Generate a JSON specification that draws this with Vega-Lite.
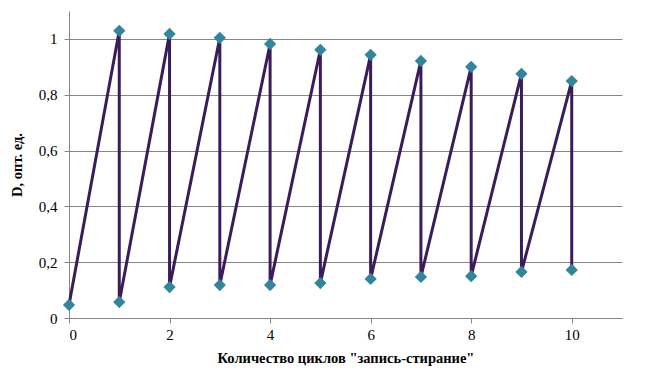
{
  "$schema": "https://vega.github.io/schema/vega-lite/v6.json",
  "width": 553,
  "height": 307,
  "autosize": {"type": "none"},
  "padding": {"left": 69, "top": 11, "right": 37, "bottom": 58},
  "background": "white",
  "config": {
    "view": {"stroke": null},
    "font": "Liberation Serif"
  },
  "data": {
    "values": [
      {"order": 1, "cycle": 0, "D": 0.047},
      {"order": 2, "cycle": 1, "D": 1.029},
      {"order": 3, "cycle": 1, "D": 0.057},
      {"order": 4, "cycle": 2, "D": 1.018},
      {"order": 5, "cycle": 2, "D": 0.111},
      {"order": 6, "cycle": 3, "D": 1.004},
      {"order": 7, "cycle": 3, "D": 0.118},
      {"order": 8, "cycle": 4, "D": 0.982},
      {"order": 9, "cycle": 4, "D": 0.118},
      {"order": 10, "cycle": 5, "D": 0.961},
      {"order": 11, "cycle": 5, "D": 0.125},
      {"order": 12, "cycle": 6, "D": 0.943},
      {"order": 13, "cycle": 6, "D": 0.14},
      {"order": 14, "cycle": 7, "D": 0.921},
      {"order": 15, "cycle": 7, "D": 0.147},
      {"order": 16, "cycle": 8, "D": 0.9},
      {"order": 17, "cycle": 8, "D": 0.15},
      {"order": 18, "cycle": 9, "D": 0.875},
      {"order": 19, "cycle": 9, "D": 0.165},
      {"order": 20, "cycle": 10, "D": 0.849},
      {"order": 21, "cycle": 10, "D": 0.172}
    ]
  },
  "encoding": {
    "x": {
      "field": "cycle",
      "type": "quantitative",
      "scale": {"domain": [0, 11], "nice": false, "zero": false},
      "axis": {
        "values": [0, 2, 4, 6, 8, 10],
        "grid": false,
        "domainColor": "#868686",
        "tickColor": "#868686",
        "tickSize": 5,
        "labelFont": "Liberation Serif",
        "labelFontSize": 15,
        "labelColor": "#000000",
        "labelPadding": 4,
        "title": "Количество циклов \"запись-стирание\"",
        "titleFont": "Liberation Serif",
        "titleFontSize": 14.5,
        "titleFontWeight": "bold",
        "titleColor": "#000000",
        "titlePadding": 9
      }
    },
    "y": {
      "field": "D",
      "type": "quantitative",
      "scale": {"domain": [0, 1.1], "nice": false},
      "axis": {
        "values": [0, 0.2, 0.4, 0.6, 0.8, 1],
        "labelExpr": "replace(format(datum.value, '~g'), '.', ',')",
        "grid": true,
        "gridColor": "#868686",
        "gridWidth": 1,
        "domainColor": "#868686",
        "tickColor": "#868686",
        "tickSize": 5,
        "labelFont": "Liberation Serif",
        "labelFontSize": 15,
        "labelColor": "#000000",
        "labelPadding": 7,
        "title": "D, опт. ед.",
        "titleFont": "Liberation Serif",
        "titleFontSize": 14.5,
        "titleFontWeight": "bold",
        "titleColor": "#000000",
        "titlePadding": 14
      }
    }
  },
  "layer": [
    {
      "mark": {"type": "line", "color": "#3b1c5a", "strokeWidth": 3},
      "encoding": {"order": {"field": "order", "type": "quantitative"}}
    },
    {
      "mark": {"type": "point", "shape": "diamond", "filled": true, "color": "#31859c", "size": 150, "opacity": 1}
    }
  ]
}
